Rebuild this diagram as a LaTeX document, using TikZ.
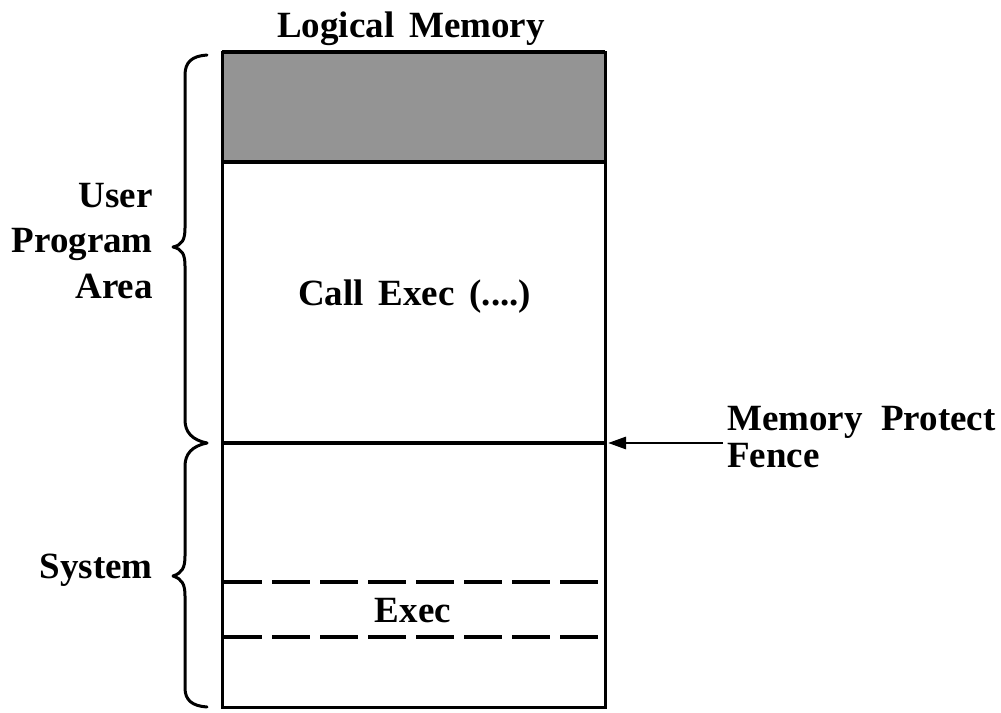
\documentclass[tikz,border=0pt]{standalone}
\usepackage{fontspec}
\setmainfont{Liberation Serif}
\usetikzlibrary{arrows.meta}
\begin{document}
\begin{tikzpicture}[x=1pt,y=-1pt,
  lbl/.style={inner sep=0pt,font=\bfseries\fontsize{37}{42}\selectfont},
  boxline/.style={line width=3pt},
  thickline/.style={line width=4.4pt},
  dashline/.style={line width=3.6pt,dash pattern=on 38pt off 10pt},
  brace/.style={line width=3pt,line cap=round,line join=round}]
\useasboundingbox (0,0) rectangle (1001,712);
% coordinates
\coordinate (tl) at (222,52);
\coordinate (tr) at (605,52);
\coordinate (bl) at (222,707);
\coordinate (br) at (605,707);
\coordinate (shl) at (222,162);
\coordinate (shr) at (605,162);
\coordinate (fl) at (222,443);
\coordinate (fr) at (605,443);
\coordinate (d1l) at (224,582);
\coordinate (d1r) at (605,582);
\coordinate (d2l) at (224,637);
\coordinate (d2r) at (605,637);
\coordinate (arrstart) at (723,443);
% shaded top
\fill[black!42] (tl) rectangle (shr);
% box
\draw[boxline] (tl) rectangle (br);
\draw[thickline] (tl) -- (tr);
\draw[thickline] (shl) -- (shr);
\draw[thickline] (fl) -- (fr);
\draw[dashline] (d1l) -- (d1r);
\draw[dashline] (d2l) -- (d2r);
% arrow
\draw[line width=2.8pt,-{Triangle[length=18pt,width=12pt]}] (arrstart) -- ([xshift=3pt]fr);
% braces
\draw[brace] (207,55) .. controls (192,56) and (185,62) .. (185,75)
  -- (185,228) .. controls (185,240) and (182,245) .. (173,247)
  .. controls (182,249) and (185,254) .. (185,266)
  -- (185,420) .. controls (185,432) and (192,440) .. (207,443);
\draw[brace] (207,443) .. controls (192,446) and (185,454) .. (185,466)
  -- (185,556) .. controls (185,568) and (182,573) .. (173,576)
  .. controls (182,579) and (185,584) .. (185,596)
  -- (185,688) .. controls (185,700) and (192,706) .. (207,707);
% labels
\node[lbl,anchor=base] (title) at (411,37) {Logical\hspace{0.4em}Memory};
\node[lbl,anchor=base east] (user) at (153,207) {User};
\node[lbl,anchor=base east] (program) at (153,252) {Program};
\node[lbl,anchor=base east] (area) at (153,298) {Area};
\node[lbl,anchor=base east] (system) at (153,578) {System};
\node[lbl,anchor=base west] (call) at (298,305) {Call\hspace{0.4em}Exec\hspace{0.4em}(....)};
\node[lbl,anchor=base] (exec) at (413,622) {Exec};
\node[lbl,anchor=base west] (mpf) at (727,430) {Memory\hspace{0.5em}Protect};
\node[lbl,anchor=base west] (fence) at (727,467) {Fence};
\end{tikzpicture}
\end{document}
